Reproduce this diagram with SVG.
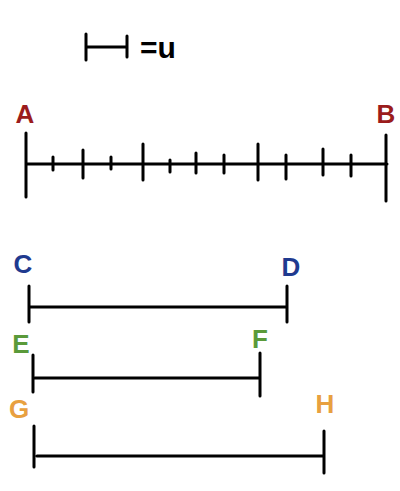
<svg xmlns="http://www.w3.org/2000/svg" width="400" height="491" viewBox="0 0 400 491">
<style>
.s{stroke:#000;stroke-width:3;stroke-linecap:round;fill:none}
.t{font-family:"Liberation Sans","DejaVu Sans",sans-serif;font-size:26px;text-anchor:middle;font-weight:bold}
.red{fill:#9b1c1c}.blue{fill:#1f3a8f}.green{fill:#5a9a3a}.orange{fill:#e8a040}
</style>
<rect width="400" height="491" fill="#fff"/>
<g id="unit">
<path class="s" d="M86 34V60M86 47H127M127 36V57"/>
<text x="158" y="58" font-family="Liberation Sans,DejaVu Sans,sans-serif" font-size="30" font-weight="bold" text-anchor="middle">=u</text>
</g>
<g id="AB">
<path class="s" d="M26 164H387M26 133V197M386 135V201M53 157V170M83 150V178M111 157V169M143 144V180M170 160V172M196 153V173M224 155V173M258 144V180M286 155V179M323 149V175M351 155V176"/>
<text class="t red" x="25" y="123">A</text>
<text class="t red" x="386" y="123">B</text>
</g>
<g id="CD">
<path class="s" d="M29 286V322M29 307H287M287 286V322"/>
<text class="t blue" x="23" y="273">C</text>
<text class="t blue" x="291" y="276">D</text>
</g>
<g id="EF">
<path class="s" d="M33 355V392M35 378H260M260 353V396"/>
<text class="t green" x="21" y="353">E</text>
<text class="t green" x="260" y="348">F</text>
</g>
<g id="GH">
<path class="s" d="M34 426V467M37 456H324M324 431V473"/>
<text class="t orange" x="19" y="418">G</text>
<text class="t orange" x="325" y="413">H</text>
</g>
</svg>
